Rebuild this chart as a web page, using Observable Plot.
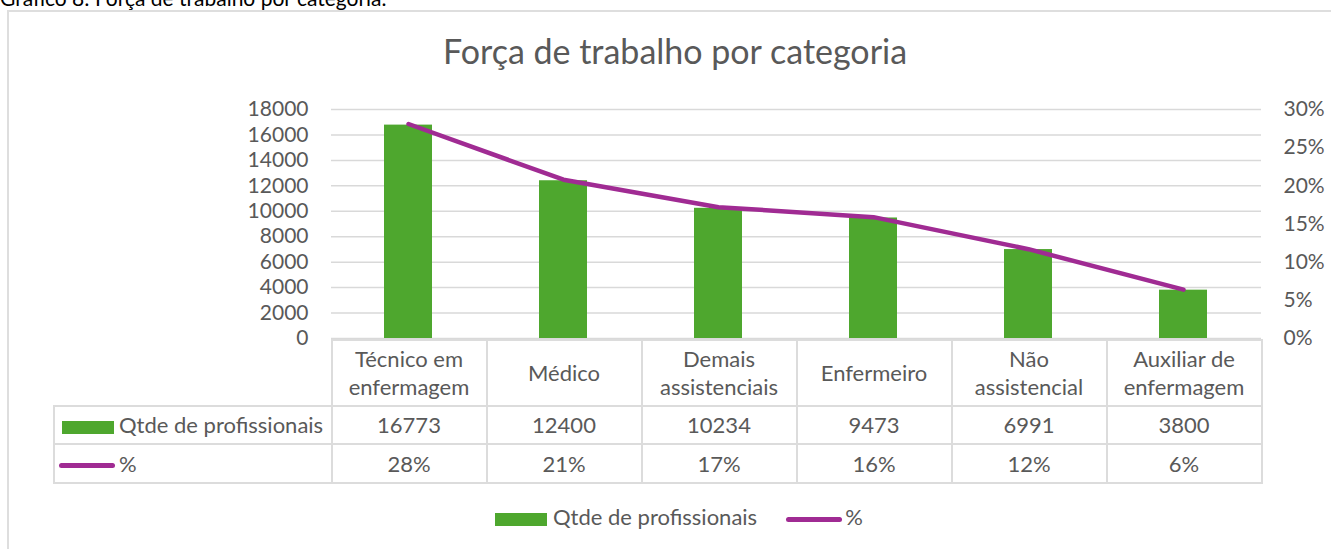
<!DOCTYPE html>
<html>
<head>
<meta charset="utf-8">
<script src="https://cdn.jsdelivr.net/npm/d3@7"></script>
<script src="https://cdn.jsdelivr.net/npm/@observablehq/plot@0.6"></script>
<style>
  html, body { margin: 0; padding: 0; background: #fff; }
  body { width: 1331px; height: 549px; position: relative; overflow: hidden; font-family: Lato, "Open Sans", sans-serif; color: #595959; }
  #caption { position: absolute; left: 0; top: -13px; font-size: 21px; line-height: 21px; color: #000; white-space: nowrap; }
  #frame { position: absolute; left: 7px; top: 10px; width: 1340px; height: 600px; border: 2px solid #dedede; box-sizing: border-box; }
  #title { position: absolute; left: 0; width: 1331px; top: 33px; text-align: center; font-size: 34px; line-height: 36px; padding-left: 19px; box-sizing: border-box; }
  #chart { position: absolute; left: 0; top: 0; }
  #table { position: absolute; border-collapse: collapse; table-layout: fixed; font-size: 22px; color: #595959; }
  #table td { border: 2px solid #dcdcdc; text-align: center; padding: 0; line-height: 28px; white-space: nowrap; }
  #table td.blank { border-top: none; border-left: none; }
  #table td.key { text-align: left; white-space: nowrap; }
  .sw { display: inline-block; vertical-align: middle; }
  #legend { position: absolute; top: 503px; left: 495px; font-size: 22px; line-height: 28px; white-space: nowrap; }
</style>
</head>
<body>
<div id="caption">Gráfico 8: Força de trabalho por categoria.</div>
<div id="frame"></div>
<div id="title">Força de trabalho por categoria</div>
<div id="chart"></div>
<table id="table"></table>
<div id="legend"></div>
<script>
// ---- data ----
const categories = ["Técnico em enfermagem", "Médico", "Demais assistenciais", "Enfermeiro", "Não assistencial", "Auxiliar de enfermagem"];
const categoryLines = [["Técnico em", "enfermagem"], ["Médico"], ["Demais", "assistenciais"], ["Enfermeiro"], ["Não", "assistencial"], ["Auxiliar de", "enfermagem"]];
const quantities = [16773, 12400, 10234, 9473, 6991, 3800];
const percents = [0.281, 0.208, 0.172, 0.159, 0.117, 0.064];
const leftTicks = [0, 2000, 4000, 6000, 8000, 10000, 12000, 14000, 16000, 18000];
const rightTicks = [0, 0.05, 0.10, 0.15, 0.20, 0.25, 0.30];
const seriesNames = ["Qtde de profissionais", "%"];

const GREEN = "#4EA72E", PURPLE = "#A02B93";
const yMax = 18000, pMax = 0.30;
const toY = p => p * yMax / pMax;
const data = categories.map((c, i) => ({category: c, qty: quantities[i], pct: percents[i]}));

const chart = Plot.plot({
  width: 1331,
  height: 340,
  marginLeft: 331,
  marginRight: 70,
  marginTop: 109,
  marginBottom: 2,
  style: {fontFamily: "Lato, 'Open Sans', sans-serif", fontSize: "21px", color: "#595959", background: "transparent", overflow: "visible"},
  x: {domain: categories, paddingInner: 0.69, paddingOuter: 0.345, axis: null},
  y: {domain: [0, yMax], axis: null},
  marks: [
    Plot.gridY(leftTicks, {stroke: "#d9d9d9", strokeOpacity: 1, strokeWidth: 1.5}),
    Plot.axisY(leftTicks, {anchor: "left", label: null, tickSize: 0, tickPadding: 23, tickFormat: d => String(d), fontSize: 21, fill: "#595959"}),
    Plot.axisY(rightTicks.map(toY), {anchor: "right", label: null, tickSize: 0, tickPadding: 22, tickFormat: d => d3.format(".0%")(d / yMax * pMax), fontSize: 21, fill: "#595959"}),
    Plot.barY(data, {x: "category", y: "qty", fill: GREEN}),
    Plot.lineY(data, {x: "category", y: d => toY(d.pct), stroke: PURPLE, strokeWidth: 4.5, strokeLinecap: "round", strokeLinejoin: "round"})
  ]
});
document.getElementById("chart").appendChild(chart);

// ---- data table aligned to the plot's x scale ----
const xs = chart.scale("x");
const step = xs.step;
const colStart = xs.apply(categories[0]) - (step - xs.bandwidth) / 2;
const tableLeft = 53;
const firstColW = colStart - tableLeft;
const table = d3.select("#table")
  .style("left", tableLeft + "px")
  .style("top", "339px")
  .style("width", (firstColW + step * categories.length) + "px");
const cg = table.append("colgroup");
cg.append("col").style("width", firstColW + "px");
categories.forEach(() => cg.append("col").style("width", step + "px"));

const r1 = table.append("tr").style("height", "66px");
r1.append("td").attr("class", "blank");
categoryLines.forEach(lines => r1.append("td").html(lines.join("<br>")));

const r2 = table.append("tr").style("height", "38px");
const k2 = r2.append("td").attr("class", "key");
k2.append("span").attr("class", "sw").style("width", "52px").style("height", "13px").style("background", GREEN).style("margin", "0 5px 0 7px");
k2.append("span").text(seriesNames[0]);
quantities.forEach(q => r2.append("td").text(String(q)));

const r3 = table.append("tr").style("height", "39px");
const k3 = r3.append("td").attr("class", "key");
k3.append("span").attr("class", "sw").style("width", "56px").style("height", "5px").style("border-radius", "3px").style("background", PURPLE).style("margin", "0 4px 0 4px");
k3.append("span").text(seriesNames[1]);
percents.forEach(p => r3.append("td").text(d3.format(".0%")(p)));

// ---- legend ----
const lg = d3.select("#legend");
lg.append("span").attr("class", "sw").style("width", "52px").style("height", "13px").style("background", GREEN).style("margin-right", "6px");
lg.append("span").text(seriesNames[0]);
lg.append("span").attr("class", "sw").style("width", "56px").style("height", "5px").style("border-radius", "3px").style("background", PURPLE).style("margin", "0 3px 0 29px");
lg.append("span").text(seriesNames[1]);
</script>
</body>
</html>
